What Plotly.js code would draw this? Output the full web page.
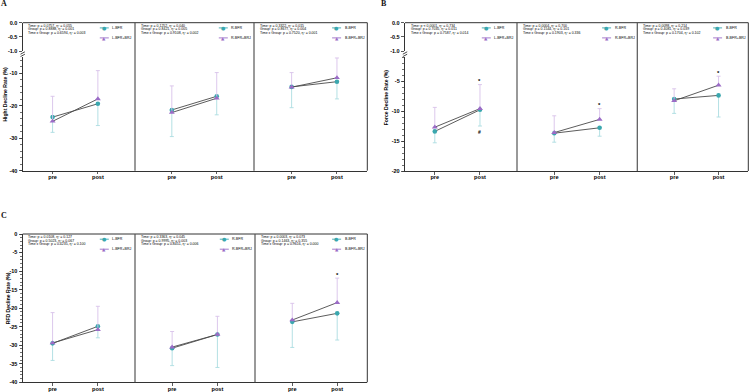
<!DOCTYPE html>
<html><head><meta charset="utf-8">
<script src="https://cdn.plot.ly/plotly-3.0.1.min.js"></script>
<style>html,body{margin:0;padding:0;background:#fff}#chart{width:750px;height:392px}</style>
</head><body><div id="chart"></div>
<script>
const timepoints = ['pre', 'post'];
const sides = ['L', 'R', 'B'];

// A: Hight Decline Rate (%)
const hightBFR   = [[-23.5, -19.4], [-21.3, -17.1], [-14.2, -12.6]];
const hightBFRsd = [[4.7, 6.7], [8.2, 5.7], [6.4, 5.3]];
const hightBRJ   = [[-24.8, -17.9], [-22.1, -17.7], [-14.3, -11.4]];
const hightBRJsd = [[7.7, 8.7], [8.2, 7.9], [4.5, 6.1]];
const hightStats = [
  ['Time: p = 0.0757, η² = 0.055', 'Group: p = 0.8888, η² = 0.001', 'Time x Group: p = 0.6594, η² = 0.003'],
  ['Time: p = 0.1252, η² = 0.040', 'Group: p = 0.8421, η² = 0.005', 'Time x Group: p = 0.9108, η² = 0.002'],
  ['Time: p = 0.3322, η² = 0.015', 'Group: p = 0.8677, η² = 0.004', 'Time x Group: p = 0.7520, η² = 0.001']
];

// B: Force Decline Rate (%)
const forceBFR   = [[-13.4, -9.8], [-13.7, -12.8], [-8.0, -7.4]];
const forceBFRsd = [[1.9, 2.7], [1.5, 1.4], [2.4, 3.6]];
const forceBRJ   = [[-12.7, -9.6], [-13.6, -11.4], [-8.3, -5.7]];
const forceBRJsd = [[3.3, 4.0], [2.8, 1.8], [2.0, 1.5]];
const forceStats = [
  ['Time: p < 0.0001, η² = 0.734', 'Group: p = 0.7035, η² = 0.011', 'Time x Group: p = 0.7587, η² = 0.014'],
  ['Time: p = 0.0004, η² = 0.700', 'Group: p = 0.1544, η² = 0.101', 'Time x Group: p = 0.1903, η² = 0.336'],
  ['Time: p = 0.0098, η² = 0.214', 'Group: p = 0.4081, η² = 0.039', 'Time x Group: p = 0.1704, η² = 0.102']
];

// C: RFD Decline Rate (%)
const rfdBFR   = [[-29.5, -24.9], [-30.8, -27.1], [-23.7, -21.4]];
const rfdBFRsd = [[4.6, 3.1], [4.7, 8.9], [6.9, 7.2]];
const rfdBRJ   = [[-29.4, -25.8], [-30.5, -27.1], [-23.2, -18.5]];
const rfdBRJsd = [[8.2, 6.3], [4.2, 4.9], [4.5, 6.6]];
const rfdStats = [
  ['Time: p = 0.0108, η² = 0.127', 'Group: p = 0.5023, η² = 0.067', 'Time x Group: p = 0.4235, η² = 0.100'],
  ['Time: p = 0.3363, η² = 0.045', 'Group: p = 0.9995, η² = 0.003', 'Time x Group: p = 0.8451, η² = 0.006'],
  ['Time: p = 0.0003, η² = 0.073', 'Group: p = 0.1463, η² = 0.355', 'Time x Group: p = 0.9616, η² = 0.000']
];

// tick labels
const topTickVals = [0, -0.5, -1.0];
const topTickText = ['0.0', '-0.5', '-1.0'];
const hightTickVals = [-10, -20, -30, -40];
const hightTickText = ['-10', '-20', '-30', '-40'];
const forceTickVals = [-5, -10, -15, -20];
const forceTickText = ['-5', '-10', '-15', '-20'];
const rfdTickVals = [0, -5, -10, -15, -20, -25, -30, -35, -40];
const rfdTickText = ['0', '-5', '-10', '-15', '-20', '-25', '-30', '-35', '-40'];

// significance marks (panel, subpanel, time, value, symbol)
const sigPanel = ['B', 'B', 'B', 'B', 'C'];
const sigSub   = [0, 0, 1, 2, 2];
const sigTime  = ['post', 'post', 'post', 'post', 'post'];
const sigValue = [-5.0, -13.5, -9.0, -3.6, -11.0];
const sigText  = ['*', '#', '*', '*', '*'];

// ---------- layout helpers ----------
const W = 750, H = 392;
const px = v => v / W;
const py = v => 1 - v / H;
const FONT = 'Liberation Sans';
const TEAL = '#3aa7ae', PURPLE = '#9b6cc6';
const TEAL_L = '#abdde1', PURPLE_L = '#d8c2ea';
const LINE = '#4a4a4a', AX = '#333';
const TXT = '#000';

const panels = [
  {key: 'A', title: 'Hight Decline Rate (%)', bfr: hightBFR, bfrSd: hightBFRsd, brj: hightBRJ, brjSd: hightBRJsd, stats: hightStats,
   xdom: [[22.7, 135], [135, 254], [254, 367.3]], top: 22.7, bottom: 170.7, broken: true, lowTop: 57,
   lowRange: [-40, -5], tickVals: hightTickVals, tickText: hightTickText, minor: 2,
   xIds: [1, 2, 3], yTop: 1, yLow: 2, titleX: 4.6, titleY: 94, letterX: 4.3, letterY: 3.8},
  {key: 'B', title: 'Force Decline Rate (%)', bfr: forceBFR, bfrSd: forceBFRsd, brj: forceBRJ, brjSd: forceBRJsd, stats: forceStats,
   xdom: [[405, 517], [517, 637.3], [637.3, 748.3]], top: 22.7, bottom: 171, broken: true, lowTop: 57,
   lowRange: [-20, -1], tickVals: forceTickVals, tickText: forceTickText, minor: 1,
   xIds: [4, 5, 6], yTop: 3, yLow: 4, titleX: 386.3, titleY: 97, letterX: 384, letterY: 3.8},
  {key: 'C', title: 'RFD Decline Rate (%)', bfr: rfdBFR, bfrSd: rfdBFRsd, brj: rfdBRJ, brjSd: rfdBRJsd, stats: rfdStats,
   xdom: [[22.7, 135], [135, 255], [255, 367.3]], top: 234, bottom: 382.3, broken: false,
   lowRange: [-40, 0], tickVals: rfdTickVals, tickText: rfdTickText, minor: 1,
   xIds: [7, 8, 9], yTop: null, yLow: 5, titleX: 8.3, titleY: 298, letterX: 4.3, letterY: 215}
];
const xRanges = [[-0.66, 1.82], [-0.82, 1.83], [-0.83, 1.67]];

const id = (p, n) => (n === 1 ? p : p + n);
const axName = (p, n) => p + 'axis' + (n === 1 ? '' : n);

const traces = [];
const layout = {
  width: W, height: H, margin: {l: 0, r: 0, t: 0, b: 0},
  paper_bgcolor: '#fff', plot_bgcolor: 'rgba(0,0,0,0)',
  showlegend: false, font: {family: FONT, color: TXT},
  shapes: [], annotations: []
};

const tickFontY = {family: FONT, size: 5.5, color: TXT, weight: 'bold'};
const tickFontX = {family: FONT, size: 5.6, color: TXT, weight: 'bold'};

panels.forEach(P => {
  const firstX = id('x', P.xIds[0]);
  const lowY = id('y', P.yLow);
  const lowTopPx = P.broken ? P.lowTop : P.top;
  layout[axName('y', P.yLow)] = {
    domain: [py(P.bottom), py(lowTopPx)], range: P.lowRange, anchor: firstX,
    showgrid: false, zeroline: false, showline: true, linecolor: AX, linewidth: 1,
    ticks: 'outside', ticklen: 3.2, tickwidth: 0.8, tickcolor: AX,
    tickmode: 'array', tickvals: P.tickVals, ticktext: P.tickText, tickfont: tickFontY,
    minor: {tickmode: 'linear', tick0: 0, dtick: P.minor, ticks: 'outside', ticklen: 1.8, tickwidth: 0.7, tickcolor: AX, showgrid: false},
    fixedrange: true
  };
  if (P.broken) {
    const topY = id('y', P.yTop);
    layout[axName('y', P.yTop)] = {
      domain: [py(51), py(P.top)], range: [-1, 0], anchor: firstX,
      showgrid: false, zeroline: false, showline: true, linecolor: AX, linewidth: 1,
      ticks: 'outside', ticklen: 3.2, tickwidth: 0.8, tickcolor: AX,
      tickmode: 'array', tickvals: topTickVals, ticktext: topTickText, tickfont: tickFontY,
      fixedrange: true
    };
    traces.push({type: 'scatter', x: [], y: [], xaxis: firstX, yaxis: topY, hoverinfo: 'skip'});
    const ax = P.xdom[0][0];
    layout.shapes.push({type: 'line', xref: 'paper', yref: 'paper', x0: px(ax - 2.2), y0: py(54.2), x1: px(ax + 2.2), y1: py(51.8), line: {color: AX, width: 0.9}});
    layout.shapes.push({type: 'line', xref: 'paper', yref: 'paper', x0: px(ax - 2.2), y0: py(56.6), x1: px(ax + 2.2), y1: py(54.2), line: {color: AX, width: 0.9}});
  }

  P.xdom.forEach((d, i) => {
    const xn = P.xIds[i];
    const xid = id('x', xn);
    layout[axName('x', xn)] = {
      domain: [px(d[0]), px(d[1])], range: xRanges[i], type: 'category', anchor: lowY,
      showgrid: false, zeroline: false, showline: true, linecolor: AX, linewidth: 1,
      ticks: 'outside', ticklen: 2.5, tickwidth: 0.8, tickcolor: AX, tickfont: tickFontX,
      ticklabelstandoff: -2,
      fixedrange: true
    };
    traces.push({
      type: 'scatter', mode: 'lines+markers', name: sides[i] + '-BFR',
      x: timepoints, y: P.bfr[i], xaxis: xid, yaxis: lowY,
      line: {color: LINE, width: 0.9},
      marker: {symbol: 'circle', size: 4.6, color: TEAL, line: {width: 0}},
      error_y: {type: 'data', symmetric: false, array: P.bfrSd[i].map(() => 0), arrayminus: P.bfrSd[i],
                color: TEAL_L, thickness: 0.9, width: 2}
    });
    traces.push({
      type: 'scatter', mode: 'lines+markers', name: sides[i] + '-BFR+BRJ',
      x: timepoints, y: P.brj[i], xaxis: xid, yaxis: lowY,
      line: {color: LINE, width: 0.9},
      marker: {symbol: 'triangle-up', size: 5.2, color: PURPLE, line: {width: 0}},
      error_y: {type: 'data', symmetric: false, array: P.brjSd[i], arrayminus: P.brjSd[i].map(() => 0),
                color: PURPLE_L, thickness: 0.9, width: 2}
    });

    P.stats[i].forEach((s, k) => {
      layout.annotations.push({xref: 'paper', yref: 'paper', x: px(d[0] + 4.6), y: py(P.top + 3.4 + 3.2 * k),
        xanchor: 'left', yanchor: 'middle', text: s, showarrow: false,
        font: {family: FONT, size: 3.5, color: TXT}, borderpad: 0});
    });
    const mx = d[1] - 30.7;
    [[sides[i] + '-BFR', TEAL, '●', 5.2, 5], [sides[i] + '-BFR+BRJ', PURPLE, '▲', 15.2, 4.4]].forEach(([lab, col, sym, dy, fs]) => {
      const my = P.top + dy;
      layout.shapes.push({type: 'line', xref: 'paper', yref: 'paper', x0: px(mx - 4.5), x1: px(mx + 4.5), y0: py(my), y1: py(my), line: {color: col, width: 0.9}});
      layout.annotations.push({xref: 'paper', yref: 'paper', x: px(mx), y: py(my + 0.2), xanchor: 'center', yanchor: 'middle',
        text: sym, showarrow: false, font: {family: 'DejaVu Sans', size: fs, color: col}, borderpad: 0});
      layout.annotations.push({xref: 'paper', yref: 'paper', x: px(mx + 7), y: py(my), xanchor: 'left', yanchor: 'middle',
        text: lab, showarrow: false, font: {family: FONT, size: 3.6, color: TXT}, borderpad: 0});
    });
  });

  const L = P.xdom[0][0], R = P.xdom[2][1];
  layout.shapes.push({type: 'line', xref: 'paper', yref: 'paper', x0: px(L), x1: px(R), y0: py(P.top), y1: py(P.top), line: {color: AX, width: 1}});
  layout.shapes.push({type: 'line', xref: 'paper', yref: 'paper', x0: px(R), x1: px(R), y0: py(P.top), y1: py(P.bottom), line: {color: AX, width: 1}});
  [P.xdom[0][1], P.xdom[1][1]].forEach(xv => {
    layout.shapes.push({type: 'line', xref: 'paper', yref: 'paper', x0: px(xv), x1: px(xv), y0: py(P.top), y1: py(P.bottom), line: {color: '#555', width: 1.2}});
  });

  layout.annotations.push({xref: 'paper', yref: 'paper', x: px(P.titleX), y: py(P.titleY), xanchor: 'center', yanchor: 'middle',
    text: P.title, textangle: -90, showarrow: false, font: {family: FONT, size: 5.1, color: TXT, weight: 'bold'}});
  layout.annotations.push({xref: 'paper', yref: 'paper', x: px(P.letterX), y: py(P.letterY), xanchor: 'center', yanchor: 'middle',
    text: P.key, showarrow: false, font: {family: 'Liberation Serif', size: 8, color: '#111', weight: 'bold'}});
});

sigText.forEach((t, j) => {
  const P = panels.find(p => p.key === sigPanel[j]);
  layout.annotations.push({xref: id('x', P.xIds[sigSub[j]]), yref: id('y', P.yLow),
    x: timepoints.indexOf(sigTime[j]), y: sigValue[j], xanchor: 'center', yanchor: 'middle',
    text: t, showarrow: false, font: {family: FONT, size: t === '*' ? 6 : 5, color: TXT, weight: 'bold'}});
});

Plotly.newPlot('chart', traces, layout, {staticPlot: true, displayModeBar: false});
</script>
</body></html>
